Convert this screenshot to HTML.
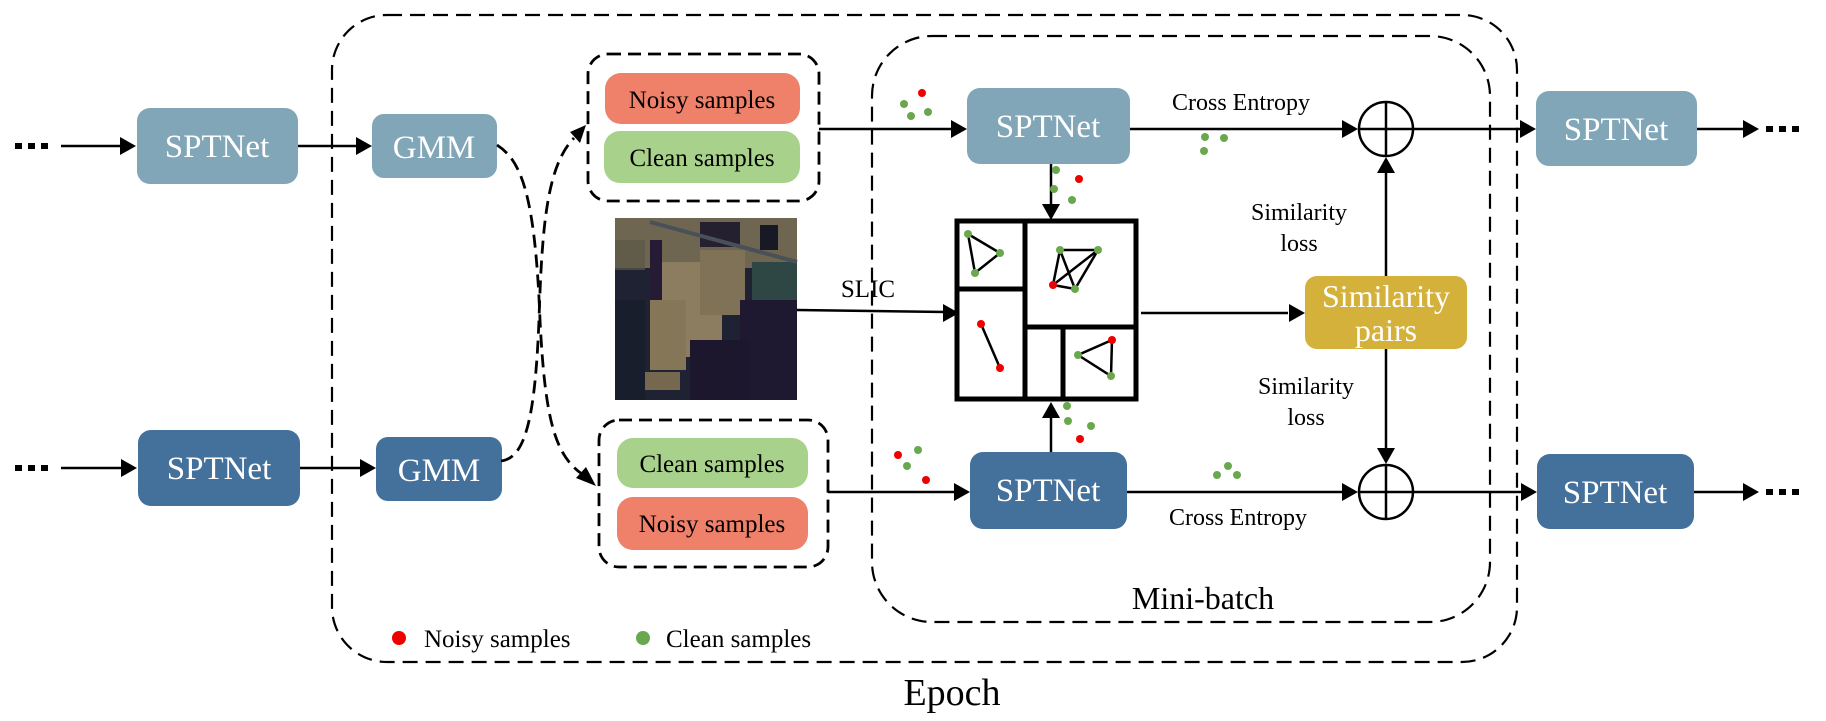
<!DOCTYPE html>
<html><head><meta charset="utf-8"><style>
html,body{margin:0;padding:0;background:#fff;}
svg{display:block;}
text{font-family:"Liberation Serif",serif;}
</style></head><body>
<svg width="1826" height="721" viewBox="0 0 1826 721" xmlns="http://www.w3.org/2000/svg">
<!-- Epoch box -->
<rect x="332" y="15" width="1185" height="647" rx="55" fill="none" stroke="#000" stroke-width="2.2" stroke-dasharray="15,8"/>
<!-- Mini-batch box -->
<rect x="872" y="36" width="618" height="586" rx="60" fill="none" stroke="#000" stroke-width="2.2" stroke-dasharray="15,8"/>
<text x="952" y="705" font-size="38" text-anchor="middle">Epoch</text>
<text x="1203" y="609" font-size="32" text-anchor="middle">Mini-batch</text>

<g font-size="33" fill="#fff" text-anchor="middle">
<rect x="137" y="108" width="161" height="76" rx="13" fill="#80a6b8"/><text x="217" y="157">SPTNet</text>
<rect x="372" y="114" width="125" height="64" rx="12" fill="#80a6b8"/><text x="434" y="158">GMM</text>
<rect x="138" y="430" width="162" height="76" rx="13" fill="#44709c"/><text x="219" y="479">SPTNet</text>
<rect x="376" y="437" width="126" height="64" rx="12" fill="#44709c"/><text x="439" y="481">GMM</text>
<rect x="967" y="88" width="163" height="76" rx="13" fill="#80a6b8"/><text x="1048" y="137">SPTNet</text>
<rect x="970" y="452" width="157" height="77" rx="13" fill="#44709c"/><text x="1048" y="501">SPTNet</text>
<rect x="1536" y="91" width="161" height="75" rx="13" fill="#80a6b8"/><text x="1616" y="140">SPTNet</text>
<rect x="1537" y="454" width="157" height="75" rx="13" fill="#44709c"/><text x="1615" y="503">SPTNet</text>
<rect x="1305" y="276" width="162" height="73" rx="12" fill="#d4b13a"/>
<text x="1386" y="307" font-size="32">Similarity</text><text x="1386" y="341" font-size="32">pairs</text>
</g>

<!-- dots left/right -->
<g fill="#000">
<rect x="15" y="143" width="7" height="6"/><rect x="28" y="143" width="7" height="6"/><rect x="41" y="143" width="7" height="6"/>
<rect x="15" y="465" width="7" height="6"/><rect x="28" y="465" width="7" height="6"/><rect x="41" y="465" width="7" height="6"/>
<rect x="1766" y="126" width="7" height="6"/><rect x="1779" y="126" width="7" height="6"/><rect x="1792" y="126" width="7" height="6"/>
<rect x="1766" y="489" width="7" height="6"/><rect x="1779" y="489" width="7" height="6"/><rect x="1792" y="489" width="7" height="6"/>
</g>

<!-- sample groups -->
<rect x="588" y="54" width="231" height="147" rx="20" fill="none" stroke="#000" stroke-width="2.8" stroke-dasharray="13,7"/>
<rect x="605" y="73" width="195" height="51" rx="16" fill="#ef8069"/>
<rect x="604" y="131" width="196" height="52" rx="16" fill="#a8d18b"/>
<rect x="599" y="420" width="229" height="147" rx="20" fill="none" stroke="#000" stroke-width="2.8" stroke-dasharray="13,7"/>
<rect x="617" y="438" width="191" height="50" rx="16" fill="#a8d18b"/>
<rect x="617" y="497" width="191" height="53" rx="16" fill="#ef8069"/>
<g font-size="25" text-anchor="middle">
<text x="702" y="108">Noisy samples</text>
<text x="702" y="166">Clean samples</text>
<text x="712" y="472">Clean samples</text>
<text x="712" y="532">Noisy samples</text>
</g>

<!-- satellite image -->
<g>
<rect x="615" y="218" width="182" height="182" fill="#1f2233"/>
<rect x="615" y="218" width="182" height="50" fill="#6e6650"/>
<rect x="660" y="262" width="62" height="95" fill="#8c7c60"/>
<rect x="700" y="250" width="45" height="65" fill="#7f7256"/>
<rect x="650" y="300" width="36" height="70" fill="#857658"/>
<rect x="640" y="372" width="40" height="18" fill="#75684e"/>
<rect x="615" y="300" width="30" height="100" fill="#181e2c"/>
<rect x="752" y="262" width="45" height="38" fill="#2e4644"/>
<rect x="740" y="300" width="57" height="100" fill="#1e1830"/>
<rect x="690" y="340" width="60" height="60" fill="#1c172d"/>
<rect x="650" y="240" width="12" height="60" fill="#251b35"/>
<rect x="700" y="222" width="40" height="25" fill="#242030"/>
<rect x="760" y="225" width="18" height="25" fill="#191926"/>
<line x1="650" y1="222" x2="797" y2="262" stroke="#4a5058" stroke-width="4"/>
<rect x="615" y="240" width="30" height="30" fill="#5a5846" opacity="0.7"/>
</g>
<text x="868" y="297" font-size="25" text-anchor="middle">SLIC</text>

<!-- arrows -->
<g stroke="#000" stroke-width="2.5" fill="none">
<line x1="61" y1="146" x2="122" y2="146"/>
<line x1="61" y1="468" x2="123" y2="468"/>
<line x1="298" y1="146" x2="358" y2="146"/>
<line x1="300" y1="468" x2="362" y2="468"/>
<line x1="819" y1="129" x2="953" y2="129"/>
<line x1="828" y1="492" x2="956" y2="492"/>
<line x1="797" y1="310" x2="946" y2="312"/>
<line x1="1130" y1="129" x2="1344" y2="129"/>
<line x1="1127" y1="492" x2="1344" y2="492"/>
<line x1="1414" y1="129" x2="1522" y2="129"/>
<line x1="1414" y1="492" x2="1522" y2="492"/>
<line x1="1697" y1="129" x2="1745" y2="129"/>
<line x1="1694" y1="492" x2="1745" y2="492"/>
<line x1="1051" y1="164" x2="1051" y2="205"/>
<line x1="1051" y1="452" x2="1051" y2="416"/>
<line x1="1141" y1="313" x2="1288" y2="313"/>
<line x1="1386" y1="276" x2="1386" y2="172"/>
<line x1="1386" y1="349" x2="1386" y2="450"/>
<path d="M497,145 C520,160 535,190 540,320 C545,420 555,455 582,474" stroke-width="2.8" stroke-dasharray="13,7"/>
<path d="M501,461 C525,458 535,420 539,320 C542,220 548,165 574,138" stroke-width="2.8" stroke-dasharray="13,7"/>
</g>
<g fill="#000">
<polygon points="136,146 120,137 120,155"/>
<polygon points="137,468 121,459 121,477"/>
<polygon points="372,146 356,137 356,155"/>
<polygon points="376,468 360,459 360,477"/>
<polygon points="967,129 951,120 951,138"/>
<polygon points="970,492 954,483 954,501"/>
<polygon points="959,313 943,304 943,322"/>
<polygon points="1358,129 1342,120 1342,138"/>
<polygon points="1358,492 1342,483 1342,501"/>
<polygon points="1536,129 1520,120 1520,138"/>
<polygon points="1537,492 1521,483 1521,501"/>
<polygon points="1759,129 1743,120 1743,138"/>
<polygon points="1759,492 1743,483 1743,501"/>
<polygon points="1051,220 1042,204 1060,204"/>
<polygon points="1051,402 1042,418 1060,418"/>
<polygon points="1305,313 1289,304 1289,322"/>
<polygon points="1386,157 1377,173 1395,173"/>
<polygon points="1386,464 1377,448 1395,448"/>
<polygon points="586,125 570,132 580,143"/>
<polygon points="596,486 576,478 586,467"/>
</g>
<g stroke="#000" stroke-width="2.5" fill="#fff">
<circle cx="1386" cy="129" r="27"/>
<circle cx="1386" cy="492" r="27"/>
<line x1="1359" y1="129" x2="1413" y2="129"/><line x1="1386" y1="102" x2="1386" y2="156"/>
<line x1="1359" y1="492" x2="1413" y2="492"/><line x1="1386" y1="465" x2="1386" y2="519"/>
</g>
<g font-size="24" text-anchor="middle">
<text x="1241" y="110">Cross Entropy</text>
<text x="1238" y="525">Cross Entropy</text>
<text x="1299" y="220">Similarity</text><text x="1299" y="251">loss</text>
<text x="1306" y="394">Similarity</text><text x="1306" y="425">loss</text>
</g>

<!-- grid -->
<g stroke="#000" stroke-width="5" fill="none">
<rect x="957" y="221" width="179" height="178"/>
<line x1="1025" y1="221" x2="1025" y2="399"/>
<line x1="957" y1="289" x2="1025" y2="289"/>
<line x1="1025" y1="327" x2="1136" y2="327"/>
<line x1="1063" y1="327" x2="1063" y2="399"/>
</g>
<g stroke="#000" stroke-width="2.5" fill="none">
<polygon points="968,234 1000,253 975,273"/>
<polygon points="1060,250 1098,250 1075,289 1053,285"/>
<line x1="1060" y1="250" x2="1075" y2="289"/>
<line x1="1098" y1="250" x2="1053" y2="285"/>
<line x1="981" y1="324" x2="1000" y2="368"/>
<polygon points="1112,340 1078,355 1111,376"/>
</g>
<g fill="#6aa84f">
<circle cx="968" cy="234" r="4"/><circle cx="1000" cy="253" r="4"/><circle cx="975" cy="273" r="4"/>
<circle cx="1060" cy="250" r="4"/><circle cx="1098" cy="250" r="4"/><circle cx="1075" cy="289" r="4"/>
<circle cx="1078" cy="355" r="4"/><circle cx="1111" cy="376" r="4"/>
<circle cx="904" cy="104" r="4"/><circle cx="911" cy="116" r="4"/><circle cx="928" cy="112" r="4"/>
<circle cx="1056" cy="170" r="4"/><circle cx="1054" cy="189" r="4"/><circle cx="1072" cy="200" r="4"/>
<circle cx="1205" cy="137" r="4"/><circle cx="1224" cy="138" r="4"/><circle cx="1204" cy="151" r="4"/>
<circle cx="1067" cy="406" r="4"/><circle cx="1068" cy="421" r="4"/><circle cx="1091" cy="426" r="4"/>
<circle cx="918" cy="450" r="4"/><circle cx="907" cy="466" r="4"/>
<circle cx="1217" cy="475" r="4"/><circle cx="1228" cy="466" r="4"/><circle cx="1237" cy="475" r="4"/>
<circle cx="643" cy="638" r="7"/>
</g>
<g fill="#e00">
<circle cx="1053" cy="285" r="4"/><circle cx="981" cy="324" r="4"/><circle cx="1000" cy="368" r="4"/><circle cx="1112" cy="340" r="4"/>
<circle cx="922" cy="93" r="4"/><circle cx="1079" cy="179" r="4"/><circle cx="1080" cy="439" r="4"/>
<circle cx="898" cy="455" r="4"/><circle cx="926" cy="480" r="4"/>
<circle cx="399" cy="638" r="7"/>
</g>
<g font-size="25"><text x="424" y="647">Noisy samples</text><text x="666" y="647">Clean samples</text></g>
</svg>
</body></html>
